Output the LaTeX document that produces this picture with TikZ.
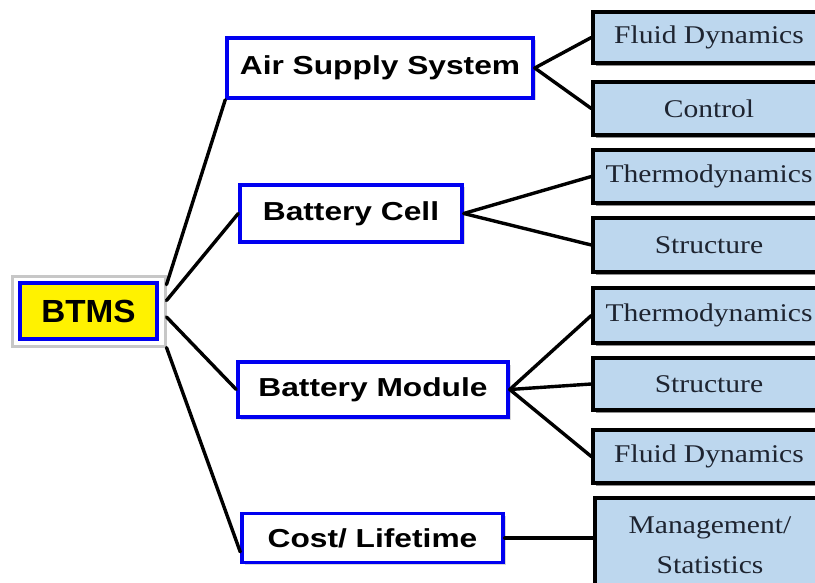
\documentclass[tikz,border=0pt]{standalone}
\usepackage{fontspec}
\setmainfont{Liberation Serif}
\newfontfamily\lblfont[FakeStretch=1.22]{Liberation Sans}
\newfontfamily\leaffont[FakeStretch=1.16]{Liberation Serif}
\newfontfamily\rootfont[FakeStretch=1.04]{Liberation Sans}
\usetikzlibrary{shadows}
\definecolor{leafblue}{RGB}{189,215,238}
\definecolor{boxblue}{RGB}{0,0,240}
\definecolor{leaftext}{RGB}{30,36,48}
\tikzset{
  midbox/.style={draw=boxblue, line width=3.5pt, fill=white, inner sep=0pt,
    font=\lblfont\bfseries\fontsize{26}{30}\selectfont,
    drop shadow={shadow xshift=2.5pt, shadow yshift=-2.5pt, fill=black!25, opacity=0.6}},
  leafbox/.style={draw=black, line width=3.4pt, fill=leafblue, inner sep=0pt,
    minimum width=232pt, font=\leaffont\fontsize{25.5}{40}\selectfont, text=leaftext,
    drop shadow={shadow xshift=3pt, shadow yshift=-3pt, fill=black!55, opacity=0.8}},
  link/.style={draw=black, line width=3.4pt, line cap=round},
}
\begin{document}
\begin{tikzpicture}[x=1pt, y=-1pt]
\useasboundingbox (0,0) rectangle (815,583);
\fill[white] (0,0) rectangle (815,583);
\clip (0,0) rectangle (815,583);

% root
\node[draw=black!22, line width=3pt, minimum width=153pt, minimum height=69pt, inner sep=0pt] (frame) at (88.5,311.5) {};
\node[draw=boxblue, line width=3.5pt, fill=yellow, minimum width=137pt, minimum height=56pt, inner sep=0pt,
  font=\rootfont\bfseries\fontsize{32}{36}\selectfont] (root) at (88.5,311) {BTMS};

% second level
\node[midbox, minimum width=306pt, minimum height=60pt] (air) at (380,68) {Air Supply System};
\node[midbox, minimum width=222pt, minimum height=57pt] (cell) at (351,213.5) {Battery Cell};
\node[midbox, minimum width=270pt, minimum height=55pt] (module) at (373,389.5) {Battery Module};
\node[midbox, minimum width=261pt, minimum height=49pt] (cost) at (372.5,538) {Cost/ Lifetime};

% leaves
\node[leafbox, minimum height=51pt] (fd1) at (709,37.5) {Fluid Dynamics};
\node[leafbox, minimum height=53pt] (ctrl) at (709,108.5) {Control};
\node[leafbox, minimum height=53pt] (th1) at (709,176.5) {Thermodynamics};
\node[leafbox, minimum height=54pt] (st1) at (709,245) {Structure};
\node[leafbox, minimum height=55pt] (th2) at (709,315.5) {Thermodynamics};
\node[leafbox, minimum height=52pt] (st2) at (709,384) {Structure};
\node[leafbox, minimum height=53pt] (fd2) at (709,456.5) {Fluid Dynamics};
\node[leafbox, minimum width=230pt, minimum height=94pt, align=center] (mg) at (710,545) {Management/\\Statistics};

% connectors from root
\draw[link] (frame.19) -- (air.south west);
\draw[link] (frame.8) -- (cell.west);
\draw[link] (frame.-4) -- (module.west);
\draw[link] (frame.south east) -- (cost.186);

% connectors to leaves
\draw[link] (air.east) -- (fd1.west);
\draw[link] (air.east) -- (ctrl.west);
\draw[link] (cell.east) -- (th1.west);
\draw[link] (cell.east) -- (st1.west);
\draw[link] (module.east) -- (th2.west);
\draw[link] (module.east) -- (st2.west);
\draw[link] (module.east) -- (fd2.west);
\draw[link] (cost.east) -- (cost.east -| mg.west);
\end{tikzpicture}
\end{document}
